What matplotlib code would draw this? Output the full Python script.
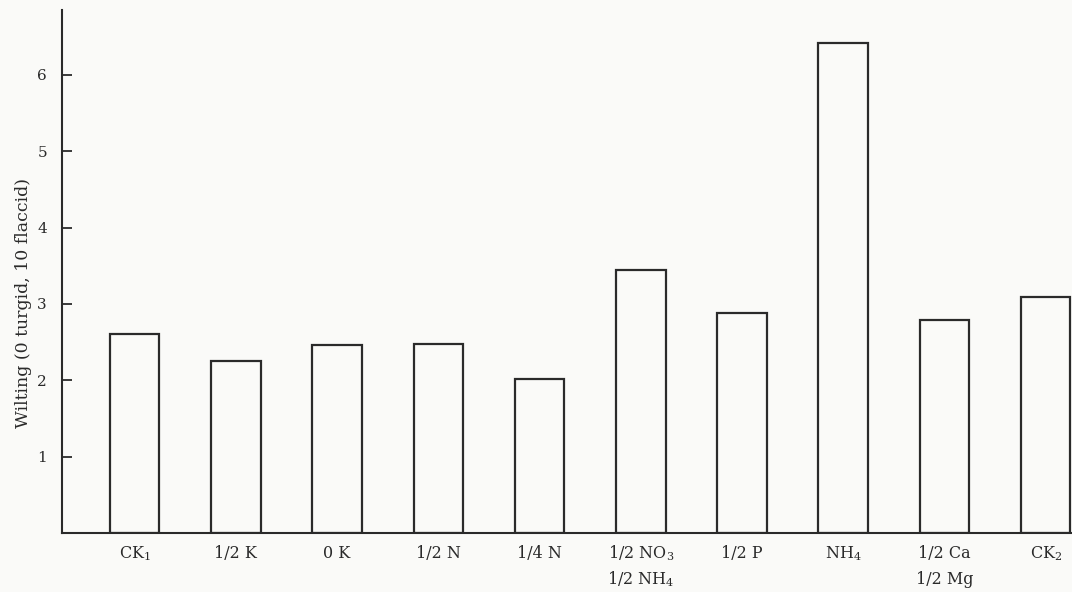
import matplotlib.pyplot as plt
import numpy as np

# wilting score per nutrient treatment
label_top = ['CK$_1$', '1/2 K', '0 K', '1/2 N', '1/4 N',
             '1/2 NO$_3$', '1/2 P', 'NH$_4$', '1/2 Ca', 'CK$_2$']
label_bottom = ['', '', '', '', '', '1/2 NH$_4$', '', '', '1/2 Mg', '']
wilting = [2.61, 2.25, 2.46, 2.47, 2.02, 3.45, 2.88, 6.42, 2.79, 3.09]
yticks = [1, 2, 3, 4, 5, 6]

plt.rcParams['font.family'] = ['DejaVu Serif']
plt.rcParams['mathtext.fontset'] = 'dejavuserif'

ink = '#2a2a2a'
paper = '#fafaf8'

fig = plt.figure(figsize=(10.72, 5.92), dpi=100, facecolor=paper)
ax = fig.add_axes([0.058, 0.0997, 0.942, 0.8833], facecolor=paper)

x = np.arange(len(label_top))
ax.bar(x, wilting, width=0.49, facecolor='none', edgecolor=ink, linewidth=1.6)

ax.set_xlim(-0.716, 9.26)
ax.set_ylim(0, 6.85)

ax.set_yticks(yticks)
ax.set_yticklabels([str(t) for t in yticks])
ax.tick_params(axis='y', direction='in', length=7, width=1.3, color=ink,
               labelcolor=ink, labelsize=11, pad=11)

# category labels: two text rows under the bars
ax.set_xticks(x)
ax.set_xticklabels([])
ax.tick_params(axis='x', length=0)
for xi, top, bottom in zip(x, label_top, label_bottom):
    ax.annotate(top, (xi, 0), xycoords=('data', 'axes fraction'),
                xytext=(0, -18), textcoords='offset points',
                ha='center', va='baseline', fontsize=11.5, color=ink)
    if bottom:
        ax.annotate(bottom, (xi, 0), xycoords=('data', 'axes fraction'),
                    xytext=(0, -37), textcoords='offset points',
                    ha='center', va='baseline', fontsize=11.5, color=ink)

ax.set_ylabel('Wilting (0 turgid, 10 flaccid)', color=ink, fontsize=12.5)
ax.yaxis.set_label_coords(-0.03, 0.44)

for side in ['top', 'right']:
    ax.spines[side].set_visible(False)
for side in ['left', 'bottom']:
    ax.spines[side].set_color(ink)
    ax.spines[side].set_linewidth(1.5)

fig.savefig('out.png', dpi=100, facecolor=paper)
